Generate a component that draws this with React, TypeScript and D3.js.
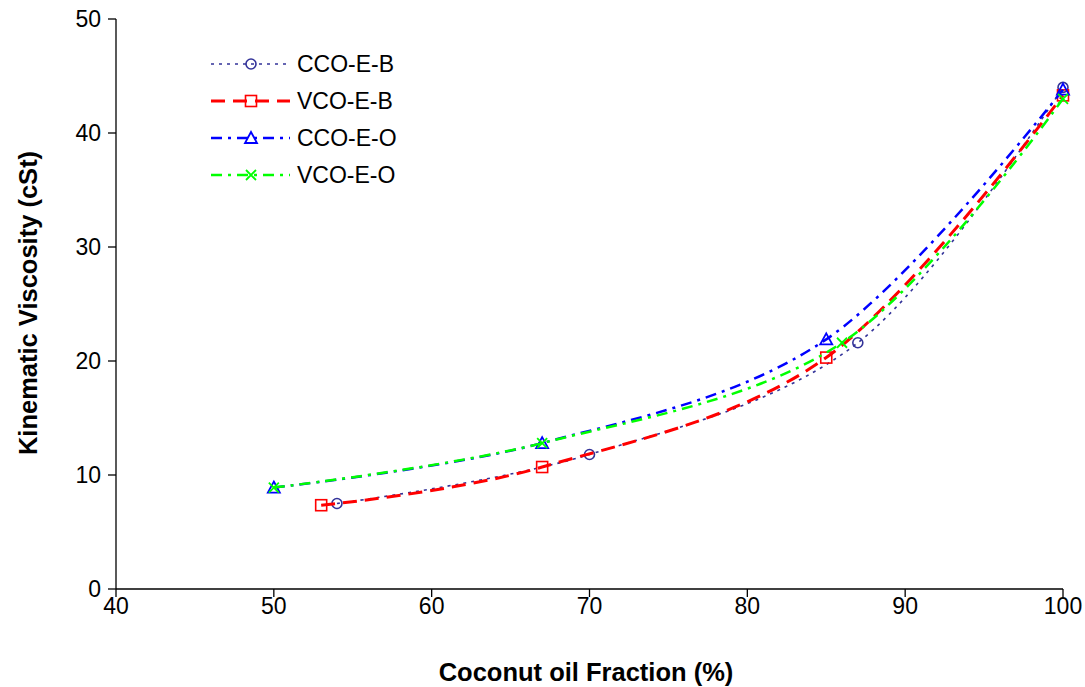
import React from "react";
import * as d3 from "d3";

const seriesNames = ["CCO-E-B", "VCO-E-B", "CCO-E-O", "VCO-E-O"];
const ccoEBx = [54, 70, 87, 100];
const ccoEBy = [7.5, 11.8, 21.6, 44.0];
const vcoEBx = [53, 67, 85, 100];
const vcoEBy = [7.35, 10.7, 20.3, 43.3];
const ccoEOx = [50, 67, 85, 100];
const ccoEOy = [8.9, 12.8, 21.9, 43.8];
const vcoEOx = [50, 67, 86, 100];
const vcoEOy = [8.9, 12.8, 21.6, 43.0];
const xTicks = [40, 50, 60, 70, 80, 90, 100];
const yTicks = [0, 10, 20, 30, 40, 50];

const styles = [
  { color: "#333399", dash: "3,5", width: 1.6, marker: "circle" },
  { color: "#ff0000", dash: "14,8", width: 3, marker: "square" },
  { color: "#0000ff", dash: "11,6,3,6", width: 2.5, marker: "triangle" },
  { color: "#00ff00", dash: "11,6,3,6", width: 2.5, marker: "x" },
];

const W = 1085, H = 687;
const L = 116, R = 1063, T = 19, B = 589;

function Marker({ type, x, y, color }: { type: string; x: number; y: number; color: string }) {
  if (type === "circle") return <circle cx={x} cy={y} r={5} fill="none" stroke={color} strokeWidth={1.6} />;
  if (type === "square") return <rect x={x - 5.5} y={y - 5.5} width={11} height={11} fill="none" stroke={color} strokeWidth={1.6} />;
  if (type === "triangle")
    return <path d={`M${x},${y - 6}L${x + 6},${y + 5}L${x - 6},${y + 5}Z`} fill="none" stroke={color} strokeWidth={1.8} />;
  return <path d={`M${x - 5},${y - 5}L${x + 5},${y + 5}M${x - 5},${y + 5}L${x + 5},${y - 5}`} stroke={color} strokeWidth={1.8} />;
}

export default function App() {
  const x = d3.scaleLinear().domain([40, 100]).range([L, R]);
  const y = d3.scaleLinear().domain([0, 50]).range([B, T]);
  const data = [
    [ccoEBx, ccoEBy],
    [vcoEBx, vcoEBy],
    [ccoEOx, ccoEOy],
    [vcoEOx, vcoEOy],
  ];
  const line = d3
    .line<[number, number]>()
    .x((d) => x(d[0]))
    .y((d) => y(d[1]))
    .curve(d3.curveCatmullRom.alpha(0));
  const font = "Arial, 'Liberation Sans', sans-serif";
  const order = [0, 1, 2, 3];
  return (
    <svg width={W} height={H} style={{ position: "absolute", left: 0, top: 0, background: "#fff" }} fontFamily={font}>
      <line x1={L} y1={T} x2={L} y2={B} stroke="#000" strokeWidth={1.3} />
      <line x1={L} y1={B} x2={R} y2={B} stroke="#000" strokeWidth={1.3} />
      {yTicks.map((t) => (
        <g key={"y" + t}>
          <line x1={L - 8} x2={L} y1={y(t)} y2={y(t)} stroke="#000" strokeWidth={1.3} />
          <text x={L - 15} y={y(t)} dy="0.35em" textAnchor="end" fontSize={23}>
            {t}
          </text>
        </g>
      ))}
      {xTicks.map((t) => (
        <g key={"x" + t}>
          <line x1={x(t)} x2={x(t)} y1={B} y2={B + 8} stroke="#000" strokeWidth={1.3} />
          <text x={x(t)} y={B + 17} dy="0.35em" textAnchor="middle" fontSize={23}>
            {t}
          </text>
        </g>
      ))}
      <text x={586} y={672} dy="0.35em" textAnchor="middle" fontSize={25.5} fontWeight="bold">
        Coconut oil Fraction (%)
      </text>
      <text transform={`translate(28,${303}) rotate(-90)`} dy="0.35em" textAnchor="middle" fontSize={25.5} fontWeight="bold">
        Kinematic Viscosity (cSt)
      </text>
      {order.map((i) => {
        const [xs, ys] = data[i];
        const pts = xs.map((v, k) => [v, ys[k]] as [number, number]);
        const s = styles[i];
        return (
          <g key={"s" + i}>
            <path d={line(pts) || ""} fill="none" stroke={s.color} strokeWidth={s.width} strokeDasharray={s.dash} />
            {pts.map((p, k) => (
              <Marker key={k} type={s.marker} x={x(p[0])} y={y(p[1])} color={s.color} />
            ))}
          </g>
        );
      })}
      {seriesNames.map((n, i) => {
        const s = styles[i];
        const ly = 64 + i * 37;
        return (
          <g key={"l" + i}>
            <line x1={211} x2={290} y1={ly} y2={ly} stroke={s.color} strokeWidth={s.width} strokeDasharray={s.dash} />
            <Marker type={s.marker} x={251} y={ly} color={s.color} />
            <text x={297} y={ly} dy="0.35em" fontSize={23}>
              {n}
            </text>
          </g>
        );
      })}
    </svg>
  );
}
